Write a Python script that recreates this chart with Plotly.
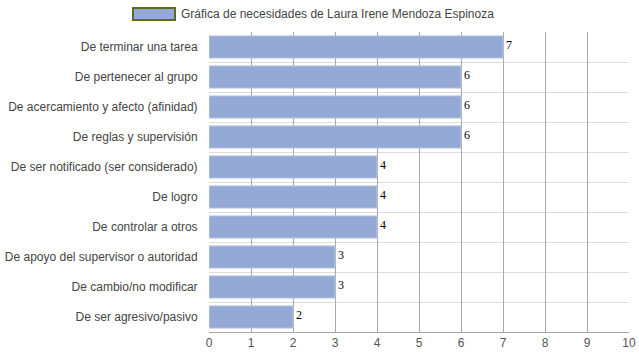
import plotly.graph_objects as go

categories = [
    "De terminar una tarea",
    "De pertenecer al grupo",
    "De acercamiento y afecto (afinidad)",
    "De reglas y supervisión",
    "De ser notificado (ser considerado)",
    "De logro",
    "De controlar a otros",
    "De apoyo del supervisor o autoridad",
    "De cambio/no modificar",
    "De ser agresivo/pasivo",
]
values = [7, 6, 6, 6, 4, 4, 4, 3, 3, 2]
legend_title = "Gráfica de necesidades de Laura Irene Mendoza Espinoza"
x_ticks = list(range(0, 11))

n = len(categories)
ypos = [n - 1 - i for i in range(n)]

fig = go.Figure()
fig.add_trace(go.Bar(
    x=values, y=ypos, orientation="h",
    marker=dict(color="#95A9D6", line=dict(color="#B9C6E4", width=1)),
    width=0.74, showlegend=False, hoverinfo="x+y",
))

for v, y in zip(values, ypos):
    fig.add_annotation(x=v, y=y + 0.37, text=str(v), showarrow=False,
                       xanchor="left", yanchor="top", xshift=1,
                       font=dict(family="Liberation Serif", size=12, color="#000"))

# Legend drawn in paper coordinates
fig.add_shape(type="rect", xref="paper", yref="paper",
              x0=(133 - 209) / 420, x1=(175 - 209) / 420,
              y0=(332 - 20) / 300, y1=(332 - 8) / 300,
              fillcolor="#95A9D6", line=dict(color="#5E6B1E", width=2))
fig.add_annotation(xref="paper", yref="paper", x=(179 - 209) / 420, y=(332 - 14) / 300,
                   text=legend_title, showarrow=False, xanchor="left", yanchor="middle",
                   font=dict(family="Liberation Sans", size=12, color="#444"))

fig.update_layout(
    width=639, height=360,
    margin=dict(l=209, r=10, t=32, b=28, autoexpand=False),
    paper_bgcolor="white", plot_bgcolor="white",
    font=dict(family="Liberation Sans", size=12, color="#444"),
    xaxis=dict(range=[0, 10], tickvals=x_ticks, showgrid=True, gridcolor="#A8A8A8",
               gridwidth=1, zeroline=False, showline=True, linecolor="#A8A8A8",
               layer="above traces", ticks="", tickfont=dict(color="#555"),
               automargin=False, fixedrange=True),
    yaxis=dict(range=[-0.5, n - 0.5], tickvals=ypos, ticktext=categories,
               showgrid=False, zeroline=False, showline=False, ticks="outside",
               ticklen=8, tickcolor="rgba(0,0,0,0)",
               minor=dict(tick0=0.5, dtick=1, showgrid=True, gridcolor="#DDDDDD", gridwidth=1),
               tickfont=dict(color="#444"), automargin=False, fixedrange=True),
)

fig.write_html("out.html", config={"displayModeBar": False},
               post_script="document.body.style.margin='0';document.body.style.overflow='hidden';")
